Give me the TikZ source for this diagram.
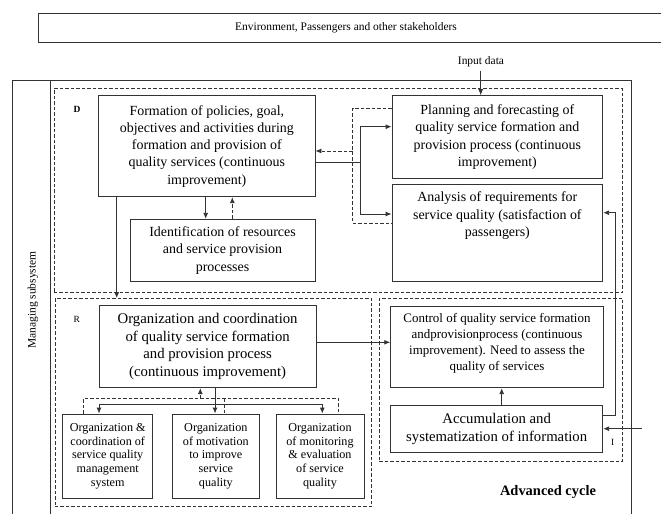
\documentclass[tikz,border=0pt]{standalone}
\usepackage{fontspec}
\setmainfont{Liberation Serif}
\usetikzlibrary{arrows.meta}
\newcommand\fbig{\fontsize{14}{17.3}\selectfont}
\newcommand\forg{\fontsize{14.8}{17.8}\selectfont}
\newcommand\fctl{\fontsize{13}{16}\selectfont}
\newcommand\fsml{\fontsize{12.2}{13.9}\selectfont}
\newcommand\flab{\fontsize{11.5}{13}\selectfont}
\tikzset{
  ln/.style={draw=black!80, line width=0.9bp},
  box/.style={ln, inner sep=0pt, align=center},
  dbox/.style={draw=black!80, line width=0.8bp, dash pattern=on 3.5bp off 2bp, inner sep=0pt},
  arr/.style={ln, -{Latex[length=6bp,width=5bp]}},
  dln/.style={draw=black!80, line width=0.8bp, dash pattern=on 3.5bp off 2bp},
  darr/.style={dln, -{Latex[length=6bp,width=5bp]}},
}
\begin{document}
\begin{tikzpicture}[x=1bp, y=-1bp]
\useasboundingbox (0,0) rectangle (661,514);
% banner
\draw[ln] (665,13) -- (38,13) -- (38,42) -- (665,42);
\node[font=\flab] (env) at (346,28) {Environment, Passengers and other stakeholders};
% outer frame
\draw[ln] (12.7,520) -- (12.7,80.7) -- (631.7,80.7) -- (631.7,520);
\draw[ln] (50.7,80.7) -- (50.7,520);
\node[rotate=90, font=\flab] (man) at (33,300) {Managing subsystem};
% dashed regions
\node[dbox, minimum width=568.3bp, minimum height=203.8bp] (Dd) at (338.15,190.6) {};
\node[dbox, minimum width=316.7bp, minimum height=208.2bp] (Rd) at (213.35,402.6) {};
\node[dbox, minimum width=243.4bp, minimum height=163.2bp] (Id) at (501,379.9) {};
\node[font=\fontsize{9.5}{11}\selectfont\bfseries] (Dl) at (77,109) {D};
\node[font=\fontsize{9.5}{11}\selectfont] (Rl) at (76.7,319) {R};
\node[font=\fontsize{9.5}{11}\selectfont] (Il) at (612.7,442.7) {I};
% boxes
\node[box, font=\fbig, minimum width=216.3bp, minimum height=101bp] (form) at (206.85,146.2)
  {Formation of policies, goal,\\objectives and activities during\\formation and provision of\\quality services (continuous\\improvement)};
\node[box, font=\fbig, minimum width=185bp, minimum height=62.4bp] (ident) at (222.5,250.5)
  {Identification of resources\\and service provision\\processes};
\node[box, font=\fbig, minimum width=210.7bp, minimum height=82.6bp] (plan) at (497.35,137)
  {Planning and forecasting of\\quality service formation and\\provision process (continuous\\improvement)};
\node[box, minimum width=210.7bp, minimum height=97.7bp] (ana) at (497.35,232.85) {};
\node[align=center, inner sep=0pt, font=\fbig] (anatext) at (497.35,215.8)
  {Analysis of requirements for\\service quality (satisfaction of\\passengers)};
\node[box, font=\forg, minimum width=216.7bp, minimum height=82.7bp] (org) at (207.65,346.35)
  {Organization and coordination\\of quality service formation\\and provision process\\(continuous improvement)};
\node[box, minimum width=212.6bp, minimum height=81.7bp] (ctrl) at (497,346.85) {};
\node[align=center, inner sep=0pt, font=\fctl] (ctrltext) at (497,343)
  {Control of quality service formation\\andprovisionprocess (continuous\\improvement). Need to assess the\\quality of services};
\node[box, font=\forg, minimum width=212bp, minimum height=46.6bp] (acc) at (496.7,429)
  {Accumulation and\\systematization of information};
\node[box, font=\fsml, minimum width=90bp, minimum height=84.3bp] (s1) at (107.7,456.15)
  {Organization \&\\coordination of\\service quality\\management\\system};
\node[box, font=\fsml, minimum width=86.3bp, minimum height=84.3bp] (s2) at (215.85,456.15)
  {Organization\\of motivation\\to improve\\service\\quality};
\node[box, font=\fsml, minimum width=88bp, minimum height=84.3bp] (s3) at (320,456.15)
  {Organization\\of monitoring\\\& evaluation\\of service\\quality};
\node[font=\fontsize{14.5}{17}\selectfont\bfseries] (adv) at (548,492) {Advanced cycle};
% input
\node[font=\flab] (inp) at (481,62) {Input data};
\draw[arr] (inp.south -| 480.7,0) -- (plan.north -| 480.7,0);
% formation -> planning / analysis
\coordinate (jR) at (360.7,162.7);
\draw[ln] (form.east |- jR) -- (jR);
\draw[arr] (jR) |- (plan.west |- 0,126.7);
\draw[arr] (jR) |- (ana.west |- 0,214);
% dashed feedback
\draw[dln] (plan.west |- 0,108) -| (352.7,223) -- (ana.west |- 0,223);
\coordinate (dk) at (352.7,151);
\draw[darr] (dk) -- (form.east |- dk);
% formation <-> identification
\draw[arr] (form.south -| 205.7,0) -- (ident.north -| 205.7,0);
\draw[darr] (ident.north -| 232.3,0) -- (form.south -| 232.3,0);
% formation -> R
\draw[arr] (form.south -| 116.7,0) -- (Rd.north -| 116.7,0);
% org -> control
\draw[arr] (org.east |- 0,342.3) -- (ctrl.west |- 0,342.3);
% org -> small boxes
\draw[arr] (org.south -| 215,0) -- (s2.north -| 215,0);
\draw[ln] (99,404) -- (322.3,404);
\draw[arr] (99,404) -- (s1.north -| 99,0);
\draw[arr] (322.3,404) -- (s3.north -| 322.3,0);
\draw[dln] (s1.north -| 83.3,0) -- (83.3,398.5) -- (338.3,398.5) -- (s3.north -| 338.3,0);
\draw[dln] (224,398.5) -- (s2.north -| 224,0);
\draw[darr] (200.3,398.5) -- (org.south -| 200.3,0);
% accumulation -> control
\draw[arr] (acc.north -| 501.7,0) -- (ctrl.south -| 501.7,0);
% accumulation -> analysis
\draw[arr] (acc.east |- 0,415) -| (615.7,212.7) -- (ana.east |- 0,212.7);
% external input
\coordinate (ext) at (641.7,428.7);
\draw[arr] (ext) -- (acc.east |- ext);
\end{tikzpicture}
\end{document}
